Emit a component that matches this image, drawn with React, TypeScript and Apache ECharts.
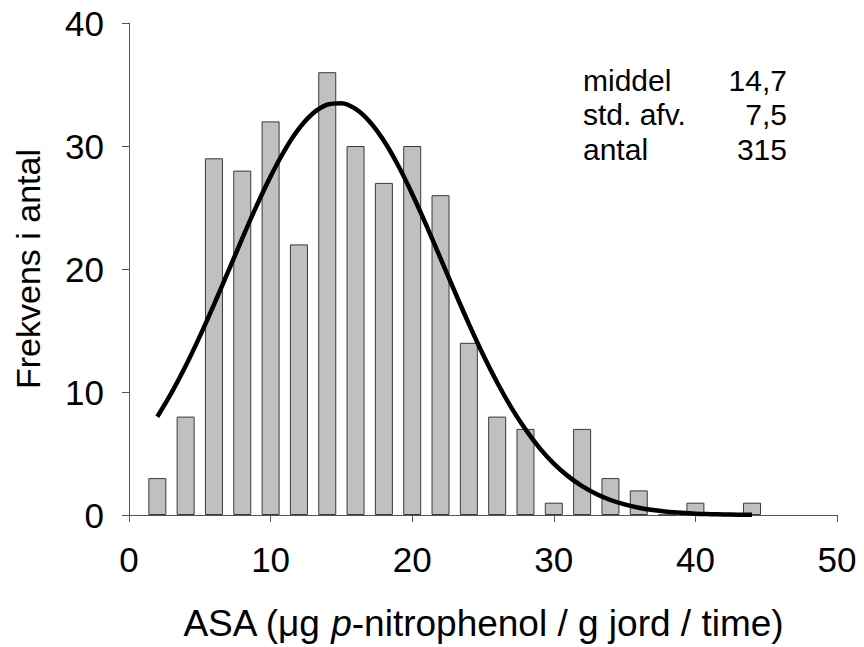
import React, { useEffect, useRef } from "react";
import * as echarts from "echarts";

const binCenters = [2, 4, 6, 8, 10, 12, 14, 16, 18, 20, 22, 24, 26, 28, 30, 32, 34, 36, 38, 40, 42, 44];
const counts = [3, 8, 29, 28, 32, 22, 36, 30, 27, 30, 26, 14, 8, 7, 1, 7, 3, 2, 0, 1, 0, 1];

const curveX = [2, 3, 4, 5, 6, 7, 8, 9, 10, 11, 12, 13, 14, 15, 16, 17, 18, 19, 20, 21, 22, 23, 24, 25, 26, 27, 28, 29, 30, 31, 32, 33, 34, 35, 36, 37, 38, 39, 40, 41, 42, 43, 44];
const curveY = [7.99, 9.93, 12.11, 14.52, 17.1, 19.78, 22.49, 25.11, 27.53, 29.67, 31.41, 32.66, 33.36, 33.48, 33.01, 31.97, 30.42, 28.43, 26.1, 23.55, 20.87, 18.17, 15.54, 13.05, 10.77, 8.73, 6.96, 5.44, 4.18, 3.16, 2.34, 1.71, 1.22, 0.86, 0.59, 0.4, 0.27, 0.18, 0.11, 0.07, 0.04, 0.03, 0.02];

const xTicks = [0, 10, 20, 30, 40, 50];
const yTicks = [0, 10, 20, 30, 40];

const statLabels = ["middel", "std. afv.", "antal"];
const statValues = ["14,7", "7,5", "315"];

const FONT = '"Liberation Sans", Arial, sans-serif';

export default function App() {
  const ref = useRef<HTMLDivElement>(null);

  useEffect(() => {
    document.body.style.margin = "0";
    if (!ref.current) return;
    const chart = echarts.init(ref.current, null, { renderer: "svg" });

    const axisLine = { show: true, lineStyle: { color: "#555", width: 1 } };
    const axisTick = { show: true, length: 7, lineStyle: { color: "#555", width: 1 } };

    const graphics: any[] = [];
    statLabels.forEach((lab, i) => {
      const y = 80 + i * 34.5;
      graphics.push({
        type: "text",
        left: 583,
        top: y - 15,
        style: { text: lab, fontSize: 30, fontFamily: FONT, fill: "#000" },
      });
      graphics.push({
        type: "text",
        x: 787,
        y: y,
        style: {
          text: statValues[i],
          fontSize: 30,
          fontFamily: FONT,
          fill: "#000",
          align: "right",
          verticalAlign: "middle",
        },
      });
    });

    chart.setOption({
      animation: false,
      backgroundColor: "#fff",
      textStyle: { fontFamily: FONT },
      grid: { left: 129, right: 27, top: 23, bottom: 129, containLabel: false },
      xAxis: {
        type: "value",
        min: xTicks[0],
        max: xTicks[xTicks.length - 1],
        interval: 10,
        axisLine,
        axisTick,
        splitLine: { show: false },
        axisLabel: { fontSize: 35, color: "#000", margin: 27, fontFamily: FONT },
        name: "{n|ASA (μg }{i|p}{n|-nitrophenol / g jord / time)}",
        nameLocation: "middle",
        nameGap: 90,
        nameTextStyle: {
          rich: {
            n: { fontSize: 37, fontFamily: FONT, color: "#000" },
            i: { fontSize: 37, fontFamily: FONT, fontStyle: "italic", color: "#000" },
          },
        },
      },
      yAxis: {
        type: "value",
        min: yTicks[0],
        max: yTicks[yTicks.length - 1],
        interval: 10,
        axisLine,
        axisTick,
        splitLine: { show: false },
        axisLabel: { fontSize: 35, color: "#000", margin: 25, fontFamily: FONT },
        name: "Frekvens i antal",
        nameLocation: "middle",
        nameGap: 84,
        nameTextStyle: { fontSize: 34, color: "#000", fontFamily: FONT },
      },
      graphic: graphics,
      series: [
        {
          type: "bar",
          data: binCenters.map((x, i) => [x, counts[i]]),
          barWidth: 18,
          itemStyle: { color: "#c0c0c0", borderColor: "#3a3a3a", borderWidth: 1 },
          z: 2,
        },
        {
          type: "line",
          data: curveX.map((x, i) => [x, curveY[i]]),
          smooth: 0.3,
          symbol: "none",
          lineStyle: { color: "#000", width: 4.5 },
          z: 3,
        },
      ],
    });

    return () => chart.dispose();
  }, []);

  return (
    <div
      ref={ref}
      style={{ position: "fixed", left: 0, top: 0, width: 864, height: 647, background: "#fff" }}
    />
  );
}
